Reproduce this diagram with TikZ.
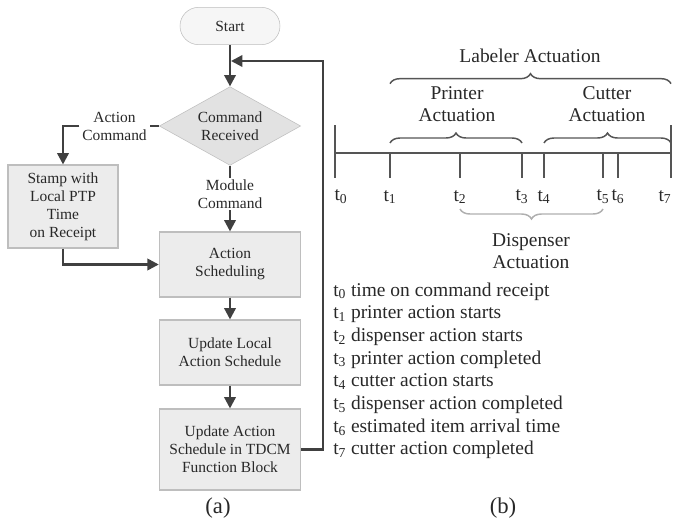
\documentclass[tikz,border=0pt]{standalone}
\usepackage{fontspec}
\setmainfont{Liberation Serif}
\usepackage{tikz}
\usetikzlibrary{arrows.meta,positioning,decorations.pathreplacing,shapes.geometric}

\definecolor{linegray}{RGB}{64,64,64}
\definecolor{boxedge}{RGB}{190,190,190}
\definecolor{boxfill}{RGB}{236,236,236}
\definecolor{diafill}{RGB}{226,226,226}
\definecolor{startfill}{RGB}{246,246,246}
\definecolor{textgray}{RGB}{40,40,40}
\definecolor{axisgray}{RGB}{85,85,85}
\definecolor{lightbrace}{RGB}{175,175,175}

\newcommand\flowfont{\fontsize{11.6pt}{13.5pt}\selectfont}
\newcommand\timefont{\fontsize{14.6pt}{16.8pt}\selectfont}
\newcommand\capfont{\fontsize{17pt}{20pt}\selectfont}

\begin{document}
\begin{tikzpicture}[
	x=0.75pt,y=-0.75pt,
	box/.style={draw=boxedge,fill=boxfill,line width=0.8pt,minimum width=106pt,align=center,font=\flowfont,text=textgray},
	lbl/.style={align=center,font=\flowfont,text=textgray},
	flow/.style={draw=linegray,line width=1.8pt,-{Triangle[length=8.5pt,width=8.5pt]}},
	link/.style={draw=linegray,line width=1.8pt},
	tline/.style={draw=axisgray,line width=1.3pt},
	curly/.style={decorate,decoration={brace,amplitude=7.5pt},draw=axisgray,line width=1.1pt},
	timetext/.style={align=center,font=\timefont,text=textgray}
	]
	
	\useasboundingbox (0,0) rectangle (673,525);
	
	\node[
	draw=boxedge,
	fill=startfill,
	rounded corners=14pt,
	minimum width=75pt,
	minimum height=28pt,
	font=\flowfont,
	text=textgray
	]
	(start)
	at (230,26)
	{Start};
	
	\node[
	draw=boxedge,
	fill=diafill,
	diamond,
	aspect=1.8,
	inner sep=0pt,
	minimum width=106pt,
	minimum height=59pt,
	align=center,
	font=\flowfont,
	text=textgray
	]
	(cmd)
	at (230,126)
	{Command\\Received};
	
	\node[box,minimum width=82.5pt,minimum height=62.25pt] (stamp) at (63,206.5) {Stamp with\\Local PTP\\Time\\on Receipt};
	\node[box,minimum height=48.75pt] (act) at (230,264.5) {Action\\Scheduling};
	\node[box,minimum height=48.75pt] (loc) at (230,352.5) {Update Local\\Action Schedule};
	\node[box,minimum height=60.75pt] (tdcm) at (230,449.5) {Update Action\\Schedule in TDCM\\Function Block};
	
	\node[lbl,inner xsep=2pt] (actcmd) at (114.5,126) {Action\\Command};
	\node[lbl,inner ysep=1pt] (modcmd) at (230,194) {Module\\Command};
	
	\coordinate (merge) at (231,61);
	\coordinate (loop) at (323,61);
	
	\draw[flow] (start) -- (cmd);
	\draw[link] (cmd.west) -- (actcmd.east);
	\draw[flow] (actcmd.west) -| (stamp.north);
	\draw[link] (cmd.south) -- (modcmd.north);
	\draw[flow] (modcmd.south) -- (act.north);
	\draw[flow] (stamp.south) |- (act.west);
	\draw[flow] (act) -- (loc);
	\draw[flow] (loc) -- (tdcm);
	\draw[flow] (tdcm.east) -| (loop) -- (merge);
	
	\foreach \x [count=\i from 0] in {335,390,460,522,544,603,618,671}
	{
		\coordinate (t\i) at (\x,153);
	}
	
	\draw[tline] (t0) -- ([xshift=1pt]t7);
	\draw[tline] ([yshift=21pt]t0) -- ([yshift=-19pt]t0);
	\draw[tline] ([yshift=21pt]t7) -- ([yshift=-19pt]t7);
	\foreach \i in {1,...,6}
	{
		\draw[tline] (t\i) -- ([yshift=-19pt]t\i);
	}
	
	\foreach \x [count=\i from 0] in {341,390,460,522,544,603,618,665}
	{
		\node[font=\timefont,text=textgray] (lt\i) at (\x,197) {t\textsubscript{\i}};
	}
	
	\draw[curly] ([yshift=52pt]t1) -- ([yshift=52pt]t7);
	\draw[curly] ([yshift=7.5pt]t1) -- ([yshift=7.5pt]t3);
	\draw[curly] ([yshift=7.5pt]t4) -- ([yshift=7.5pt]t7);
	\draw[curly,draw=lightbrace] ([yshift=-42pt]t5) -- ([yshift=-42pt]t2);
	
	\node[timetext] (labeler) at (530,56) {Labeler Actuation};
	\node[timetext] (printer) at (457,104) {Printer\\Actuation};
	\node[timetext] (cutter) at (607,104) {Cutter\\Actuation};
	\node[timetext] (dispenser) at (531,251) {Dispenser\\Actuation};
	
	\foreach \i/\txt in {0/time on command receipt,1/printer action starts,2/dispenser action starts,3/printer action completed,4/cutter action starts,5/dispenser action completed,6/estimated item arrival time,7/cutter action completed}
	{
		\node[font=\timefont,text=textgray,anchor=base west,inner sep=0pt] (key\i) at (333,{296+22.7*\i}) {t\textsubscript{\i} \txt};
	}
	
	\node[font=\capfont,text=textgray] (capa) at (218,508) {(a)};
	\node[font=\capfont,text=textgray] (capb) at (503,508) {(b)};
	
\end{tikzpicture}
\end{document}
